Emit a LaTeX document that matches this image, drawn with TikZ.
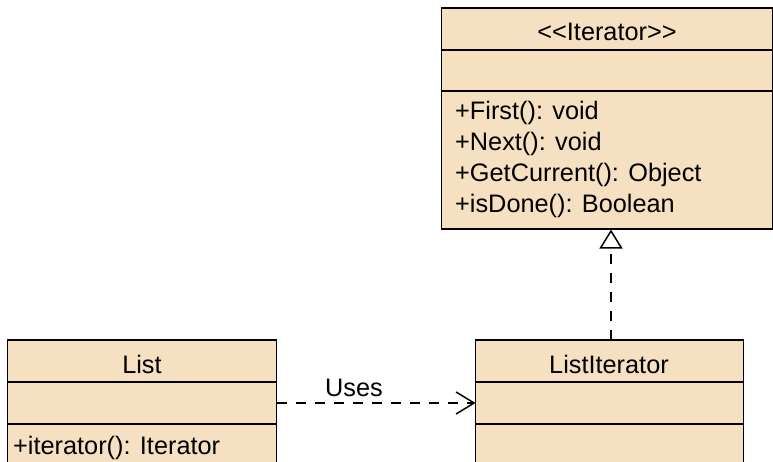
\documentclass[tikz,border=0pt]{standalone}
\usepackage{fontspec}
\setmainfont{Liberation Sans}[Ligatures=TeXOff]
\usetikzlibrary{arrows.meta}
\definecolor{classfill}{RGB}{245,224,193}
\tikzset{
  classbox/.style={draw=black, fill=classfill, line width=1.5pt, inner sep=0pt, outer sep=0pt},
  divider/.style={line width=1.5pt},
  txt/.style={font=\fontsize{25.3}{29}\selectfont, inner sep=0pt, text=black},
  conn/.style={line width=1.5pt, dash pattern=on 10pt off 9pt},
}
\begin{document}
\begin{tikzpicture}[x=1pt,y=-1pt]
\useasboundingbox (0,0) rectangle (773,461);
% Iterator
\node[classbox, minimum width=331pt, minimum height=221pt, anchor=north west] (it) at (441.5,8) {};
\draw[divider] (441.5,50) -- (772.5,50);
\draw[divider] (441.5,91) -- (772.5,91);
\node[txt] (ith) at (607,32) {<<Iterator>>};
\node[txt, anchor=west] (m1) at (455,113) {+First(): void};
\node[txt, anchor=west] (m2) at (455,144) {+Next(): void};
\node[txt, anchor=west] (m3) at (455,175) {+GetCurrent(): Object};
\node[txt, anchor=west] (m4) at (455,206) {+isDone(): Boolean};
% List
\node[classbox, minimum width=269pt, minimum height=140pt, anchor=north west] (list) at (7.5,340) {};
\draw[divider] (7.5,382) -- (276.5,382);
\draw[divider] (7.5,424) -- (276.5,424);
\node[txt] (lh) at (142,364) {List};
\node[txt, anchor=west] (lm) at (13,448) {+iterator(): Iterator};
% ListIterator
\node[classbox, minimum width=268pt, minimum height=140pt, anchor=north west] (li) at (475.5,340) {};
\draw[divider] (475.5,382) -- (743.5,382);
\draw[divider] (475.5,424) -- (743.5,424);
\node[txt] (lih) at (609,364) {ListIterator};
% connectors
\coordinate (ls) at (276.5,403);
\coordinate (le) at (475.5,403);
\draw[conn, -{Straight Barb[length=18pt,width=22pt,line width=1.5pt]}] (ls) -- (le);
\node[txt] (uses) at (354,388) {Uses};
\coordinate (gs) at (611,340);
\coordinate (ge) at (611,229.5);
\draw[conn, -{Triangle[open,length=19pt,width=23pt,line width=1.5pt,fill=white]}] (gs) -- (ge);
\end{tikzpicture}
\end{document}
